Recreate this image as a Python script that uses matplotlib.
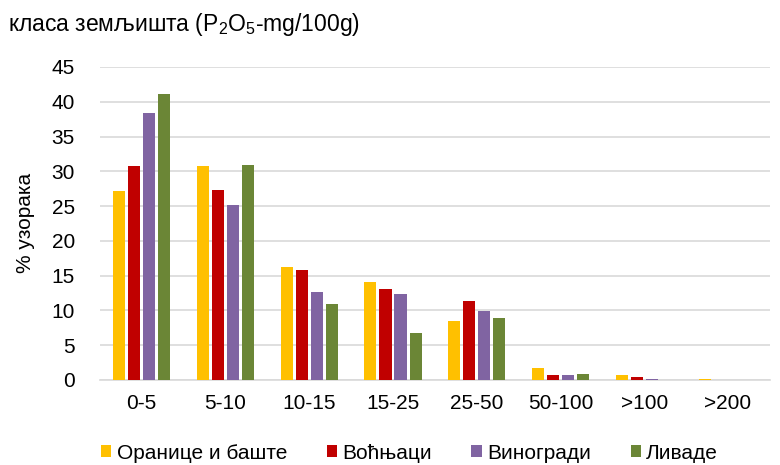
import numpy as np
import matplotlib
matplotlib.use("Agg")
import matplotlib.pyplot as plt

plt.rcParams['font.family'] = ['Liberation Sans', 'DejaVu Sans']

categories = ["0-5", "5-10", "10-15", "15-25", "25-50", "50-100", ">100", ">200"]
oranice = [27.2, 30.8, 16.3, 14.1, 8.5, 1.7, 0.72, 0.1]
vocnjaci = [30.7, 27.3, 15.8, 13.0, 11.3, 0.72, 0.43, 0.0]
vinogradi = [38.4, 25.2, 12.6, 12.4, 9.9, 0.72, 0.14, 0.0]
livade = [41.1, 30.9, 10.9, 6.8, 8.9, 0.86, 0.0, 0.0]

series = [
    ("Оранице и баште", oranice, "#ffc000"),
    ("Воћњаци", vocnjaci, "#c00000"),
    ("Виногради", vinogradi, "#8064a2"),
    ("Ливаде", livade, "#6b8636"),
]

fig = plt.figure(figsize=(7.8, 4.65), dpi=100)
ax = fig.add_axes([0.128, 0.183, 0.859, 0.673])

x = np.arange(len(categories))
w = 0.145
step = 0.18
for i, (name, vals, col) in enumerate(series):
    ax.bar(x + (i - 1.5) * step, vals, width=w, color=col, label=name, zorder=3)

ax.set_xlim(-0.5, len(categories) - 0.5)
ax.set_ylim(0, 45)
ax.set_yticks(range(0, 46, 5))
ax.set_xticks(x)
ax.set_xticklabels(categories)
ax.tick_params(axis='both', length=0, labelsize=15, pad=10)
ax.tick_params(axis='y', pad=18)
ax.grid(axis='y', color='#d9d9d9', linewidth=1.2, zorder=0)
for s in ['top', 'right', 'left']:
    ax.spines[s].set_visible(False)
ax.spines['bottom'].set_color('#d9d9d9')
ax.spines['bottom'].set_linewidth(1.2)

ax.set_ylabel("% узорака", fontsize=15, labelpad=12)
fig.text(0.01, 0.948, r"класа земљишта (P$\mathregular{_2}$O$\mathregular{_5}$-mg/100g)",
         fontsize=16.5, ha='left', va='center')

fig.legend(loc='lower center', bbox_to_anchor=(0.525, -0.035), ncol=4, frameon=False,
           fontsize=15, handlelength=0.5, handleheight=0.5, handletextpad=0.25,
           columnspacing=1.9)

fig.savefig("out.png", dpi=100)
